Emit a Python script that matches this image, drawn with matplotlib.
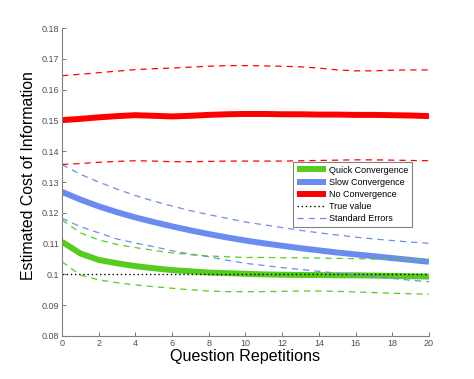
import numpy as np
import matplotlib
matplotlib.use("Agg")
from matplotlib import pyplot as plt

plt.rcParams["font.family"] = ["Liberation Sans", "DejaVu Sans"]

# ---------------------------------------
# Data
# ---------------------------------------

reps = list(range(21))

quick_mean = [0.1106, 0.1068, 0.1047, 0.1036, 0.1027, 0.1020, 0.1014, 0.1010, 0.1006, 0.1004, 0.1002,
              0.1000, 0.0999, 0.0998, 0.0998, 0.0997, 0.0997, 0.0996, 0.0995, 0.0994, 0.0993]
quick_upper = [0.1177, 0.1135, 0.1112, 0.1097, 0.1087, 0.1078, 0.1070, 0.1064, 0.1060, 0.1057, 0.1055,
               0.1055, 0.1054, 0.1054, 0.1053, 0.1052, 0.1051, 0.1050, 0.1049, 0.1048, 0.1048]
quick_lower = [0.1041, 0.0998, 0.0982, 0.0973, 0.0966, 0.0960, 0.0955, 0.0950, 0.0946, 0.0944, 0.0944,
               0.0944, 0.0945, 0.0946, 0.0946, 0.0945, 0.0943, 0.0941, 0.0939, 0.0937, 0.0936]

slow_mean = [0.1268, 0.1243, 0.1221, 0.1202, 0.1185, 0.1170, 0.1156, 0.1143, 0.1131, 0.1120, 0.1110,
             0.1101, 0.1093, 0.1085, 0.1078, 0.1071, 0.1065, 0.1059, 0.1053, 0.1047, 0.1041]
slow_upper = [0.1357, 0.1325, 0.1300, 0.1277, 0.1256, 0.1238, 0.1222, 0.1207, 0.1194, 0.1182, 0.1170,
              0.1161, 0.1152, 0.1143, 0.1135, 0.1128, 0.1121, 0.1115, 0.1110, 0.1105, 0.1101]
slow_lower = [0.1182, 0.1155, 0.1135, 0.1115, 0.1102, 0.1090, 0.1077, 0.1066, 0.1057, 0.1046, 0.1036,
              0.1029, 0.1022, 0.1016, 0.1010, 0.1004, 0.0998, 0.0993, 0.0987, 0.0981, 0.0976]

none_mean = [0.1501, 0.1505, 0.1510, 0.1514, 0.1517, 0.1515, 0.1513, 0.1515, 0.1518, 0.1520, 0.1521,
             0.1521, 0.1520, 0.1520, 0.1519, 0.1519, 0.1518, 0.1518, 0.1517, 0.1516, 0.1514]
none_upper = [0.1645, 0.1650, 0.1655, 0.1660, 0.1665, 0.1668, 0.1670, 0.1673, 0.1676, 0.1678, 0.1678,
              0.1677, 0.1676, 0.1674, 0.1670, 0.1664, 0.1661, 0.1661, 0.1663, 0.1664, 0.1664]
none_lower = [0.1357, 0.1360, 0.1364, 0.1367, 0.1369, 0.1368, 0.1366, 0.1366, 0.1367, 0.1368, 0.1368,
              0.1368, 0.1368, 0.1369, 0.1370, 0.1371, 0.1372, 0.1372, 0.1371, 0.1370, 0.1369]

true_value = 0.1

ytick_vals = [0.08, 0.09, 0.10, 0.11, 0.12, 0.13, 0.14, 0.15, 0.16, 0.17, 0.18]
ytick_labels = ["0.08", "0.09", "0.1", "0.11", "0.12", "0.13", "0.14", "0.15", "0.16", "0.17", "0.18"]

green = "#55cc1e"
blue = "#6a8cf0"
red = "#ff0000"

# ---------------------------------------
# Plot
# ---------------------------------------

fig = plt.figure(figsize=(4.74, 3.79), dpi=100)
ax = fig.add_axes([0.1308, 0.1135, 0.7742, 0.8125])

ax.plot(reps, quick_mean, color=green, lw=4.3, label="Quick Convergence", solid_capstyle="butt")
ax.plot(reps, slow_mean, color=blue, lw=4.3, label="Slow Convergence", solid_capstyle="butt")
ax.plot(reps, none_mean, color=red, lw=4.3, label="No Convergence", solid_capstyle="butt")
ax.plot([reps[0], reps[-1]], [true_value, true_value], color="black", lw=1.0, ls=(0, (1, 2)),
        label="True value")

dash = (0, (5, 4))
ax.plot(reps, slow_upper, color=blue, lw=0.9, ls=dash, label="Standard Errors")
ax.plot(reps, slow_lower, color=blue, lw=0.9, ls=dash)
ax.plot(reps, quick_upper, color=green, lw=0.9, ls=dash)
ax.plot(reps, quick_lower, color=green, lw=0.9, ls=dash)
ax.plot(reps, none_upper, color=red, lw=0.9, ls=dash)
ax.plot(reps, none_lower, color=red, lw=0.9, ls=dash)

ax.set_xlim(0, 20)
ax.set_ylim(0.08, 0.18)
ax.set_xticks(range(0, 21, 2))
ax.set_yticks(ytick_vals)
ax.set_yticklabels(ytick_labels)

for side in ["top", "right"]:
    ax.spines[side].set_visible(False)
for side in ["left", "bottom"]:
    ax.spines[side].set_color("#808080")
    ax.spines[side].set_linewidth(0.8)
ax.tick_params(direction="in", length=3, width=0.6, color="#606060", labelsize=6.5,
               labelcolor="#505050", pad=2)

ax.set_xlabel("Question Repetitions", fontsize=11.6, labelpad=1)
ax.set_ylabel("Estimated Cost of Information", fontsize=11.4, labelpad=4, y=0.52)

leg = ax.legend(loc="upper left", bbox_to_anchor=(293 / 474, 1 - 162 / 379), bbox_transform=fig.transFigure,
                fontsize=6.5, frameon=True, fancybox=False, handlelength=3.2, handletextpad=0.4,
                borderpad=0.4, labelspacing=0.35, borderaxespad=0)
leg.get_frame().set_edgecolor("#606060")
leg.get_frame().set_linewidth(0.8)

fig.savefig("out.png", dpi=100)
